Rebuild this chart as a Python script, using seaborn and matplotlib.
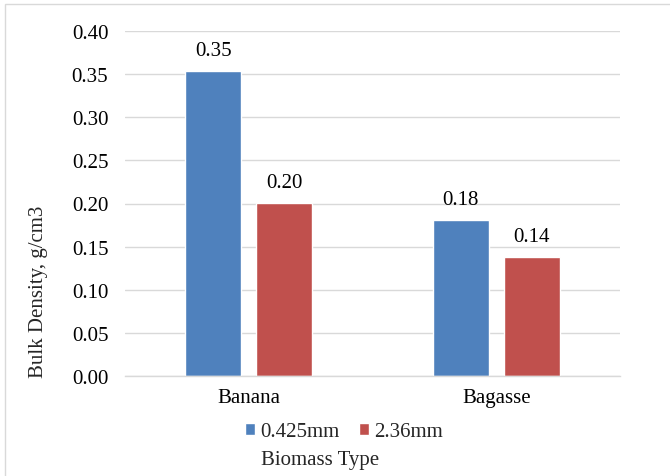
import matplotlib
matplotlib.use("Agg")
import matplotlib.pyplot as plt
import seaborn as sns
import pandas as pd
from matplotlib.patches import Rectangle

# Daten
biomass = ["Banana", "Bagasse"]
sizes = ["0.425mm", "2.36mm"]
fine = [0.354, 0.181]
coarse = [0.201, 0.138]

df = pd.DataFrame({
    "Biomass Type": biomass * 2,
    "Size": [sizes[0]] * 2 + [sizes[1]] * 2,
    "Bulk Density": fine + coarse,
})

sns.set_theme(style="white")
plt.rcParams["font.family"] = ["Liberation Serif", "DejaVu Serif"]
fs = 15

fig = plt.figure(figsize=(6.7, 4.77), dpi=100)
ax = fig.add_axes([125 / 670, 1 - 377 / 477, 495 / 670, 345 / 477])

sns.barplot(data=df, x="Biomass Type", y="Bulk Density", hue="Size",
            palette=["#4f81bd", "#c0504d"], width=0.574, gap=0.213,
            saturation=1, ax=ax, legend=True)

for cont in ax.containers:
    ax.bar_label(cont, fmt="%.2f", padding=8, fontsize=fs, color="#000000")

ax.set_ylim(0, 0.40)
ax.set_yticks([i * 0.05 for i in range(9)])
ax.set_yticklabels([f"{i * 0.05:.2f}" for i in range(9)], fontsize=fs)
ax.set_xticks([0, 1])
ax.set_xticklabels(biomass, fontsize=fs)
ax.tick_params(axis="y", length=0, pad=12, colors="#000000")
ax.tick_params(axis="x", length=0, pad=9, colors="#000000")
ax.grid(axis="y", color="#d9d9d9", linewidth=1)
ax.set_axisbelow(True)
for s in ["top", "right", "left"]:
    ax.spines[s].set_visible(False)
ax.spines["bottom"].set_color("#d9d9d9")
ax.spines["bottom"].set_linewidth(1)

ax.set_ylabel("")
ax.set_xlabel("")
fig.text(39 / 670, 1 - 292 / 477, "Bulk Density, g/cm3", fontsize=fs,
         rotation=90, ha="center", va="center")
fig.text(320 / 670, 1 - 461 / 477, "Biomass Type",
         fontsize=fs, ha="center", va="center")

handles, labels = ax.get_legend_handles_labels()
ax.legend(handles, labels, loc="center", bbox_to_anchor=(344 / 670, 1 - 433 / 477),
          bbox_transform=fig.transFigure, ncol=2, frameon=False,
          fontsize=fs, handlelength=0.5, handleheight=0.5,
          handletextpad=0.25, columnspacing=0.9, borderpad=0)

fig.patches.append(Rectangle((5 / 670, -0.1), 1, 1.1 - 5 / 477,
                             transform=fig.transFigure, fill=False,
                             edgecolor="#d9d9d9", linewidth=1))

fig.savefig("out.png", dpi=100)
